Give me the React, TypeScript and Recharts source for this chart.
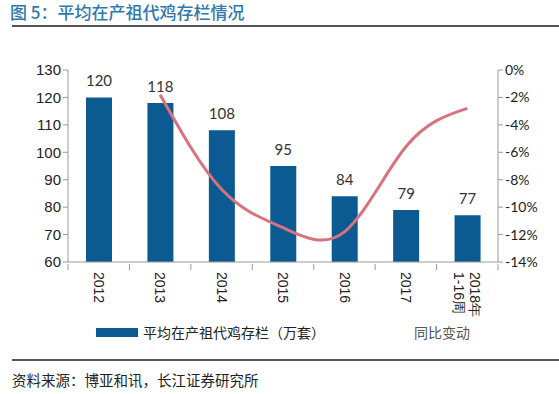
import React from 'react';
import { ComposedChart, Bar, Line, XAxis, YAxis, LabelList } from 'recharts';

const years = ['2012', '2013', '2014', '2015', '2016', '2017', '2018年|1-16周'];
const stock = [120, 118, 108, 95, 84, 79, 77];
const yoy = [null, -1.8, -8.7, -11.5, -11.8, -5.6, -2.8];
const leftTicks = [60, 70, 80, 90, 100, 110, 120, 130];
const rightTicks = [-14, -12, -10, -8, -6, -4, -2, 0];

const data = years.map((year, i) => ({ year, stock: stock[i], yoy: yoy[i] }));

const BAR_COLOR = '#0b5a92';
const LINE_COLOR = '#d6737e';
const AXIS_COLOR = '#9a9a9a';

const YearTick = (props: any) => {
  const { x, y, payload, index } = props;
  const lines: string[] = String(payload.value).split('|');
  const half = 30.7;
  return (
    <g transform={`translate(${x},${y})`}>
      <line x1={-half} y1={-6} x2={-half} y2={0} stroke={AXIS_COLOR} />
      {index === years.length - 1 && <line x1={half} y1={-6} x2={half} y2={0} stroke={AXIS_COLOR} />}
      {lines.map((t, i) => (
        <text
          key={i}
          transform="rotate(90)"
          x={2}
          y={lines.length > 1 ? (i === 0 ? -8 : 8) : 0}
          dy="0.35em"
          textAnchor="start"
          fill="#222"
          fontSize={14}
          fontFamily="Liberation Sans, Arial, sans-serif"
        >
          {t}
        </text>
      ))}
    </g>
  );
};

export default function App() {
  return (
    <div style={{ position: 'absolute', left: 0, top: 0, width: 559, height: 394, background: '#fff', overflow: 'hidden' }}>
      <div
        style={{
          position: 'absolute',
          left: 10,
          top: 1,
          fontFamily: 'Noto Sans CJK SC, sans-serif',
          fontSize: 17,
          fontWeight: 500,
          color: '#2f78ad',
          lineHeight: '22px',
          whiteSpace: 'nowrap',
        }}
      >
        图 5：平均在产祖代鸡存栏情况
      </div>
      <div style={{ position: 'absolute', left: 12, top: 25, width: 547, height: 2, background: '#555' }} />

      <div style={{ position: 'absolute', left: 0, top: 0 }}>
        <ComposedChart width={559} height={322} data={data} margin={{ top: 70, right: 0, bottom: 0, left: 8 }}>
          <XAxis
            dataKey="year"
            xAxisId="x"
            height={60}
            interval={0}
            tickLine={false}
            axisLine={{ stroke: AXIS_COLOR }}
            tick={<YearTick />}
          />
          <YAxis
            yAxisId="left"
            width={60}
            domain={[60, 130]}
            ticks={leftTicks}
            allowDataOverflow
            axisLine={{ stroke: AXIS_COLOR }}
            tickLine={{ stroke: AXIS_COLOR }}
            tickSize={5}
            tick={{ fill: '#222', fontSize: 15, fontFamily: 'Liberation Sans, Arial, sans-serif' }}
          />
          <YAxis
            yAxisId="right"
            orientation="right"
            width={61}
            domain={[-14, 0]}
            ticks={rightTicks}
            tickFormatter={(v: number) => `${v}%`}
            axisLine={{ stroke: AXIS_COLOR }}
            tickLine={{ stroke: AXIS_COLOR }}
            tickSize={5}
            tick={{ fill: '#222', fontSize: 14, fontFamily: 'Lato, sans-serif' }}
          />
          <Bar dataKey="stock" xAxisId="x" yAxisId="left" fill={BAR_COLOR} barSize={26} isAnimationActive={false}>
            <LabelList dataKey="stock" position="top" offset={11} fill="#333" fontSize={15} fontFamily="Lato, sans-serif" />
          </Bar>
          <Line
            dataKey="yoy"
            xAxisId="x"
            yAxisId="right"
            type="natural"
            stroke={LINE_COLOR}
            strokeWidth={3}
            dot={false}
            connectNulls={false}
            isAnimationActive={false}
          />
        </ComposedChart>
      </div>

      <div style={{ position: 'absolute', left: 96, top: 328, width: 42, height: 9, background: BAR_COLOR }} />
      <div
        style={{
          position: 'absolute',
          left: 143,
          top: 322,
          fontFamily: 'Noto Sans CJK SC, sans-serif',
          fontSize: 14,
          color: '#222',
          lineHeight: '20px',
          whiteSpace: 'nowrap',
        }}
      >
        平均在产祖代鸡存栏（万套）
      </div>
      <div
        style={{
          position: 'absolute',
          left: 414,
          top: 322,
          fontFamily: 'Noto Sans CJK SC, sans-serif',
          fontSize: 14,
          color: '#555',
          lineHeight: '20px',
          whiteSpace: 'nowrap',
        }}
      >
        同比变动
      </div>

      <div style={{ position: 'absolute', left: 12, top: 359, width: 547, height: 2, background: '#555' }} />
      <div
        style={{
          position: 'absolute',
          left: 12,
          top: 369,
          fontFamily: 'Noto Sans CJK SC, sans-serif',
          fontSize: 14.5,
          color: '#222',
          lineHeight: '21px',
          whiteSpace: 'nowrap',
        }}
      >
        资料来源：博亚和讯，长江证券研究所
      </div>
    </div>
  );
}
